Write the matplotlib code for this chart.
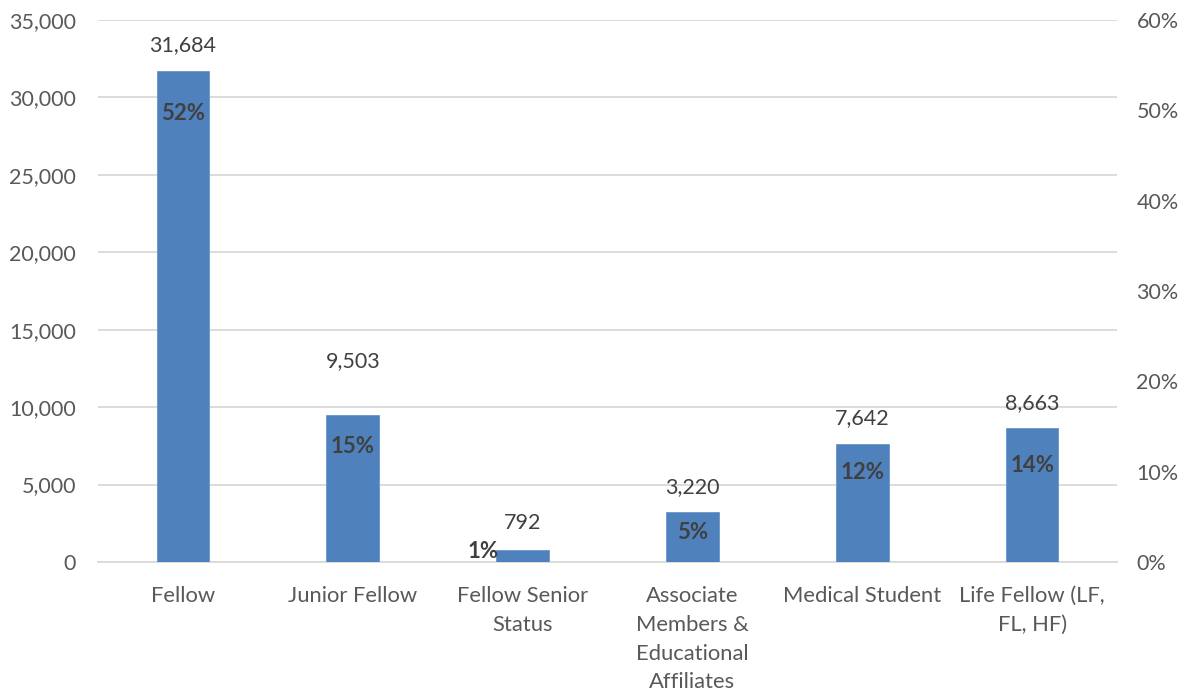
import matplotlib
matplotlib.use('Agg')
import matplotlib.pyplot as plt
from matplotlib.ticker import FuncFormatter, MultipleLocator


# Chart data
categories = [
    'Fellow',
    'Junior Fellow',
    'Fellow Senior\nStatus',
    'Associate\nMembers &\nEducational\nAffiliates',
    'Medical Student',
    'Life Fellow (LF,\nFL, HF)',
]
member_counts = [31684, 9503, 792, 3220, 7642, 8663]
share_pct = [52, 15, 1, 5, 12, 14]

# Label placement (pixel offsets)
count_label_dy = [26, 54, 27, 25, 26, 25]
pct_label_dx = [0, 0, -40, 0, 0, 0]
pct_label_dy = [-21, -20, 1, -16, -19, -30]

bar_color = '#4F81BD'
grid_color = '#D9D9D9'
tick_color = '#595959'
label_color = '#404040'

plt.rcParams['font.family'] = ['Lato', 'DejaVu Sans']


def main():
    fig = plt.figure(figsize=(11.84, 6.92), dpi=100)
    ax = fig.add_axes([0.0828, 0.1879, 0.9434 - 0.0828, 0.9711 - 0.1879])
    ax2 = ax.twinx()

    x = list(range(len(categories)))
    ax.bar(x, member_counts, width=0.31, color=bar_color,
           edgecolor='#6A95C9', linewidth=0.6, zorder=3)

    ax.set_xlim(-0.5, len(categories) - 0.5)
    ax.set_ylim(0, 35000)
    ax2.set_ylim(0, 0.60)

    ax.yaxis.set_major_locator(MultipleLocator(5000))
    ax.yaxis.set_major_formatter(FuncFormatter(lambda v, _: f'{int(v):,}'))
    ax2.yaxis.set_major_locator(MultipleLocator(0.10))
    ax2.yaxis.set_major_formatter(FuncFormatter(lambda v, _: f'{v * 100:.0f}%'))

    ax.grid(axis='y', color=grid_color, linewidth=1.3, zorder=0)
    ax.set_axisbelow(True)

    for a in (ax, ax2):
        for side in ('top', 'left', 'right', 'bottom'):
            a.spines[side].set_visible(False)
    ax.spines['bottom'].set_visible(True)
    ax.spines['bottom'].set_color(grid_color)
    ax.spines['bottom'].set_linewidth(1.3)

    ax.set_xticks(x)
    ax.set_xticklabels(categories, linespacing=1.56)
    ax.tick_params(axis='x', length=0, pad=17, labelsize=15.8, labelcolor=tick_color)
    ax.tick_params(axis='y', length=0, pad=16, labelsize=15.5, labelcolor=tick_color)
    ax2.tick_params(axis='y', length=0, pad=14, labelsize=15.5, labelcolor=tick_color)
    for lbl in ax.get_xticklabels():
        lbl.set_verticalalignment('top')

    # Count labels above the bars
    for xi, count, dy in zip(x, member_counts, count_label_dy):
        ax.annotate(f'{count:,}', (xi, count), xytext=(0, dy),
                    textcoords='offset pixels', ha='center', va='center',
                    fontsize=15.5, color=label_color, zorder=5)

    # Share labels on the secondary axis
    for xi, pct, dx, dy in zip(x, share_pct, pct_label_dx, pct_label_dy):
        ax2.annotate(f'{pct}%', (xi, pct / 100), xytext=(dx, dy),
                     textcoords='offset pixels', ha='center', va='center',
                     fontsize=16, fontweight='bold', color=label_color, zorder=5)

    fig.savefig('out.png', dpi=100)
    plt.close(fig)


if __name__ == '__main__':
    main()
